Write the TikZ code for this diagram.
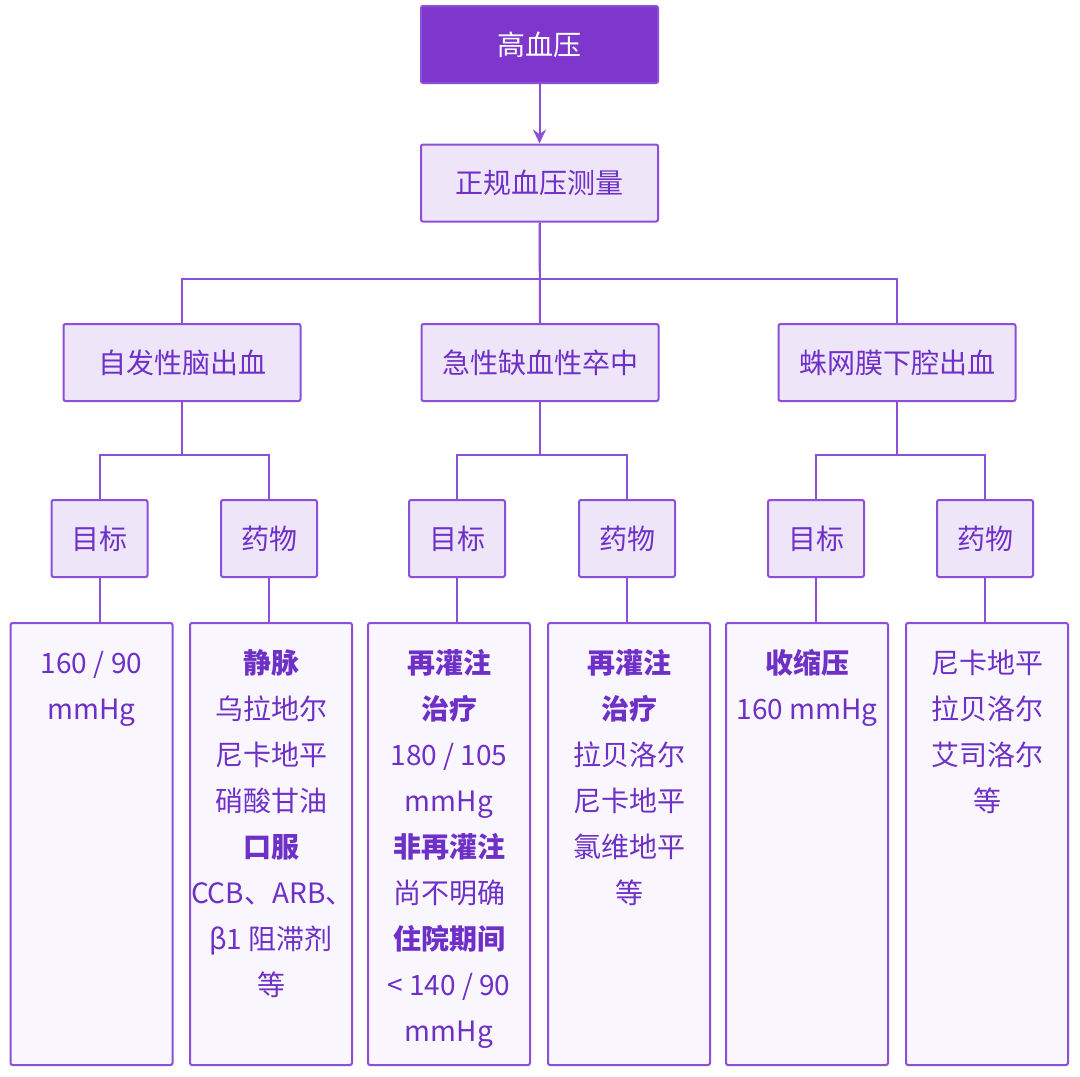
\documentclass[tikz,border=0pt]{standalone}
\usepackage{fontspec}
\setmainfont{Noto Sans CJK SC}
\usetikzlibrary{arrows.meta,positioning}
\definecolor{rootfill}{HTML}{7E36CC}
\definecolor{boxfill}{HTML}{EFE5F8}
\definecolor{leaffill}{HTML}{F9F6FD}
\definecolor{edge}{HTML}{8C4FD8}
\definecolor{ink}{HTML}{6E30C6}
\newcommand{\leaftxt}[1]{\parbox[c][214pt][t]{80pt}{\centering\setlength{\baselineskip}{23pt}\rule{0pt}{21.5pt}#1}}

\begin{document}
\begin{tikzpicture}[x=0.5pt,y=-0.5pt,
  box/.style={draw=edge,line width=1pt,fill=boxfill,text=ink,rounded corners=1pt,
    inner sep=0pt,font=\fontsize{14pt}{17pt}\selectfont},
  wide/.style={box,minimum width=118.5pt,minimum height=38.5pt},
  small/.style={box,minimum width=48pt,minimum height=38.5pt},
  leaf/.style={box,fill=leaffill,minimum width=81pt,minimum height=221pt,anchor=north},
  link/.style={draw=edge,line width=1pt}]
\useasboundingbox (0,0) rectangle (1080,1076);
\fill[white] (0,0) rectangle (1080,1076);
% top
\node[wide,fill=rootfill,text=white] (root) at (539.5,44.5) {高血压};
\node[wide] (meas) at (539.5,183) {正规血压测量};
% diseases
\node[wide] (ich) at (182,362.5) {自发性脑出血};
\node[wide] (ais) at (540,362.5) {急性缺血性卒中};
\node[wide] (sah) at (897,362.5) {蛛网膜下腔出血};
% targets and drugs
\node[small] (t1) at (99.5,538.5) {目标};
\node[small] (d1) at (269,538.5) {药物};
\node[small] (t2) at (457,538.5) {目标};
\node[small] (d2) at (627,538.5) {药物};
\node[small] (t3) at (816,538.5) {目标};
\node[small] (d3) at (985,538.5) {药物};
% details
\node[leaf] (l1) at (91.5,622) {\leaftxt{160 / 90\\mmHg}};
\node[leaf] (l2) at (271,622) {\leaftxt{\textbf{静脉}\\乌拉地尔\\尼卡地平\\硝酸甘油\\\textbf{口服}\\CCB、ARB、\\β1 阻滞剂\\等}};
\node[leaf] (l3) at (449,622) {\leaftxt{\textbf{再灌注}\\\textbf{治疗}\\180 / 105\\mmHg\\\textbf{非再灌注}\\尚不明确\\\textbf{住院期间}\\< 140 / 90\\mmHg}};
\node[leaf] (l4) at (629,622) {\leaftxt{\textbf{再灌注}\\\textbf{治疗}\\拉贝洛尔\\尼卡地平\\氯维地平\\等}};
\node[leaf] (l5) at (807,622) {\leaftxt{\textbf{收缩压}\\160 mmHg}};
\node[leaf] (l6) at (987,622) {\leaftxt{尼卡地平\\拉贝洛尔\\艾司洛尔\\等}};
% connectors
\draw[link,-{Stealth[length=7pt,width=6.5pt]}] (root.south) -- (meas.north);
\draw[link] (meas.south) -- (ais.north);
\draw[link] (meas.south) -- ++(0,56) -| (ich.north);
\draw[link] (meas.south) -- ++(0,56) -| (sah.north);
\draw[link] (ich.south) -- ++(0,52.5) -| (t1.north);
\draw[link] (ich.south) -- ++(0,52.5) -| (d1.north);
\draw[link] (ais.south) -- ++(0,52.5) -| (t2.north);
\draw[link] (ais.south) -- ++(0,52.5) -| (d2.north);
\draw[link] (sah.south) -- ++(0,52.5) -| (t3.north);
\draw[link] (sah.south) -- ++(0,52.5) -| (d3.north);
\draw[link] (t1.south) -- (t1.south |- l1.north);
\draw[link] (d1.south) -- (d1.south |- l2.north);
\draw[link] (t2.south) -- (t2.south |- l3.north);
\draw[link] (d2.south) -- (d2.south |- l4.north);
\draw[link] (t3.south) -- (t3.south |- l5.north);
\draw[link] (d3.south) -- (d3.south |- l6.north);
\end{tikzpicture}
\end{document}
